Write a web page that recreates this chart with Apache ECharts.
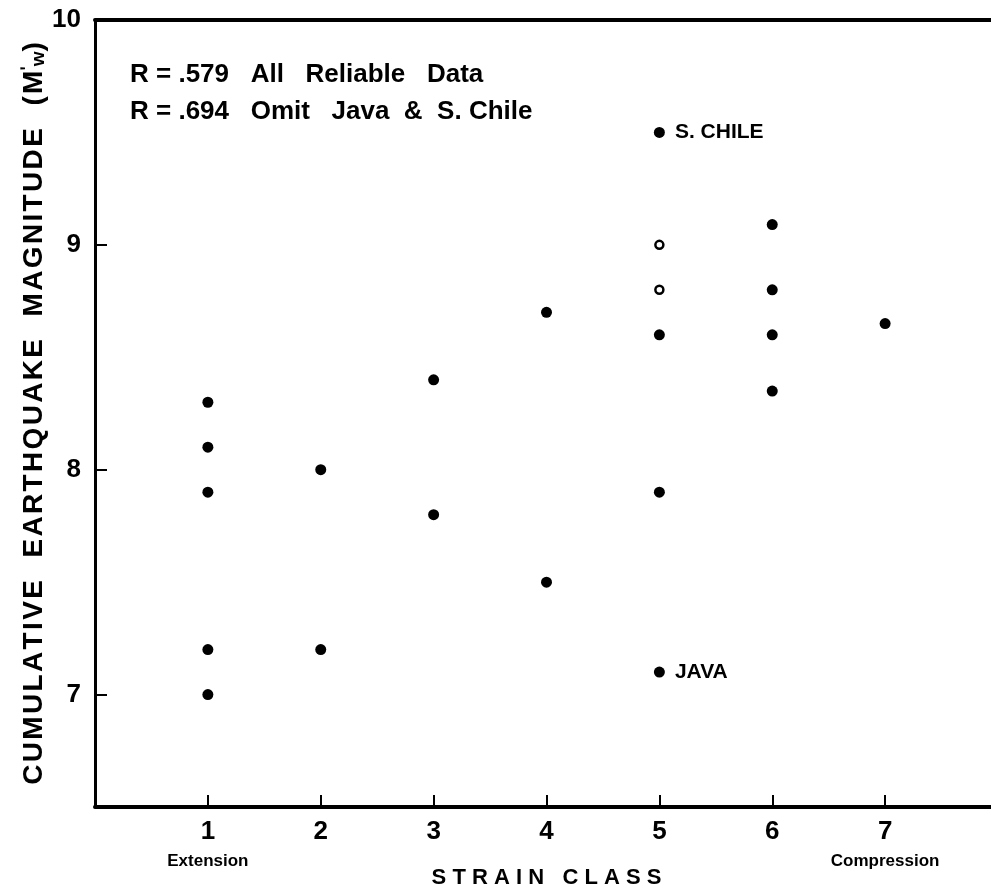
<!DOCTYPE html>
<html>
<head>
<meta charset="utf-8">
<script src="https://cdn.jsdelivr.net/npm/echarts@6/dist/echarts.min.js"></script>
<style>
  html, body { margin: 0; padding: 0; background: #fff; }
  #chart { width: 991px; height: 890px; }
</style>
</head>
<body>
<div id="chart"></div>
<script>
// Strain class (x) and cumulative earthquake magnitude (y) for the reliable data
const reliableClass = [1, 1, 1, 1, 1, 2, 2, 3, 3, 4, 4, 5, 5, 5, 5, 6, 6, 6, 6, 7];
const reliableMag   = [8.3, 8.1, 7.9, 7.2, 7.0, 8.0, 7.2, 8.4, 7.8, 8.7, 7.5, 9.5, 8.6, 7.9, 7.1, 9.09, 8.8, 8.6, 8.35, 8.65];
const reliableName  = ['', '', '', '', '', '', '', '', '', '', '', 'S. CHILE', '', '', 'JAVA', '', '', '', '', ''];

// Open symbols
const openClass = [5, 5];
const openMag   = [9.0, 8.8];

const xTicks = [1, 2, 3, 4, 5, 6, 7];
const yTicks = [7, 8, 9, 10];
const xEndNotes = { 1: 'Extension', 7: 'Compression' };

const notes = ['R = .579   All   Reliable   Data', 'R = .694   Omit   Java  &  S. Chile'];

const FONT = 'Liberation Sans';
const HAIR = '\u200A';
// spread the letters of a title a little apart
const spaced = s => s.split('').join(HAIR);

const chart = echarts.init(document.getElementById('chart'), null, { renderer: 'canvas' });

const reliableData = reliableClass.map((c, i) => ({
  value: [c, reliableMag[i]],
  label: { show: reliableName[i] !== '', formatter: reliableName[i] }
}));
const openData = openClass.map((c, i) => [c, openMag[i]]);

chart.setOption({
  animation: false,
  backgroundColor: '#ffffff',
  grid: { left: 95, right: -7, top: 20, bottom: 83, containLabel: false, outerBoundsMode: 'none' },
  xAxis: [{
    type: 'value', min: 0, max: 8,
    axisLine: { show: true, onZero: false, lineStyle: { color: '#000', width: 4 } },
    axisTick: { show: true, inside: true, length: 12, customValues: xTicks, lineStyle: { color: '#000', width: 2 } },
    axisLabel: {
      show: true, customValues: xTicks, margin: 12,
      color: '#000', fontFamily: FONT, fontSize: 26, fontWeight: 'bold',
      formatter: v => xEndNotes[v] ? v + '\n{note|' + xEndNotes[v] + '}' : String(v),
      rich: { note: { fontFamily: FONT, fontSize: 17, fontWeight: 'bold', color: '#000', padding: [8, 0, 0, 0] } }
    },
    splitLine: { show: false },
    name: 'S T R A I N   C L A S S', nameLocation: 'middle', nameGap: 60, nameMoveOverlap: false,
    nameTextStyle: { color: '#000', fontFamily: FONT, fontSize: 22, fontWeight: 'bold' }
  }, {
    type: 'value', min: 0, max: 8, position: 'top',
    axisLine: { show: true, onZero: false, lineStyle: { color: '#000', width: 4 } },
    axisTick: { show: false }, axisLabel: { show: false }, splitLine: { show: false }
  }],
  yAxis: {
    type: 'value', min: 6.5, max: 10,
    axisLine: { show: true, onZero: false, lineStyle: { color: '#000', width: 3 } },
    axisTick: { show: true, inside: true, length: 12, customValues: yTicks, lineStyle: { color: '#000', width: 2 } },
    axisLabel: { show: true, customValues: yTicks, margin: 14, color: '#000', fontFamily: FONT, fontSize: 26, fontWeight: 'bold' },
    splitLine: { show: false },
    name: '{t|' + spaced('CUMULATIVE  EARTHQUAKE  MAGNITUDE  (M') + '}{p|ʹ}{w|w}{t|)}',
    nameLocation: 'middle', nameGap: 46, nameRotate: 90, nameMoveOverlap: false,
    nameTextStyle: {
      rich: {
        t: { fontFamily: FONT, fontSize: 28, fontWeight: 'bold', color: '#000' },
        p: { fontFamily: FONT, fontSize: 18, fontWeight: 'bold', color: '#000', padding: [0, 0, 12, 0] },
        w: { fontFamily: FONT, fontSize: 19, fontWeight: 'bold', color: '#000', padding: [10, 0, 0, 0] }
      }
    }
  },
  graphic: notes.map((t, i) => ({
    type: 'text', left: 130, top: 62 + i * 37,
    style: { text: t, font: 'bold 26px "' + FONT + '"', fill: '#000' }
  })),
  series: [{
    type: 'scatter', name: 'Reliable', data: reliableData,
    symbol: 'circle', symbolSize: 11,
    itemStyle: { color: '#000', opacity: 1 },
    label: { position: 'right', distance: 10, color: '#000', fontFamily: FONT, fontSize: 21, fontWeight: 'bold' }
  }, {
    type: 'scatter', name: 'Open', data: openData,
    symbol: 'circle', symbolSize: 8,
    itemStyle: { color: '#fff', borderColor: '#000', borderWidth: 2.5, opacity: 1 }
  }]
});
</script>
</body>
</html>
